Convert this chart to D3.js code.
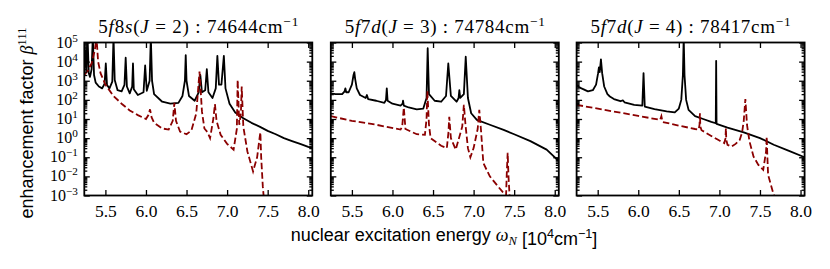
<!DOCTYPE html>
<html>
<head>
<meta charset="utf-8">
<script src="https://cdn.jsdelivr.net/npm/d3@7"></script>
<style>
  body { margin: 0; background: #fff; }
</style>
</head>
<body>
<script>
// tick values
var xTicks = [5.5, 6.0, 6.5, 7.0, 7.5, 8.0];
var yDecades = [1e-3, 1e-2, 1e-1, 1e0, 1e1, 1e2, 1e3, 1e4, 1e5];
var yExponents = ["\u22123", "\u22122", "\u22121", "0", "1", "2", "3", "4", "5"];

// panel titles: [text, style]
var title1 = [["5", ""], ["f", "i"], ["8", ""], ["s", "i"], ["(", ""], ["J", "i"], [" = 2) : 74644cm", ""], ["\u22121", "sup"]];
var title2 = [["5", ""], ["f", "i"], ["7", ""], ["d", "i"], ["(", ""], ["J", "i"], [" = 3) : 74784cm", ""], ["\u22121", "sup"]];
var title3 = [["5", ""], ["f", "i"], ["7", ""], ["d", "i"], ["(", ""], ["J", "i"], [" = 4) : 78417cm", ""], ["\u22121", "sup"]];

// 5f8s (J=2): [energy in 1e4 cm^-1, enhancement factor]
var black1 = [[5.24, 5e3], [5.255, 4e4], [5.265, 3.2e3], [5.28, 2e5], [5.295, 2.5e3], [5.31, 1.6e3],
  [5.33, 4e3], [5.345, 2e5], [5.36, 2e3], [5.38, 8e2], [5.42, 5e2], [5.46, 4e2], [5.49, 7e2],
  [5.505, 8e3], [5.52, 6e2], [5.55, 4e2], [5.585, 9e2], [5.6, 2e5], [5.615, 1.1e3], [5.65, 3.2e2],
  [5.7, 2.8e2], [5.735, 6e2], [5.75, 1.6e4], [5.765, 5e2], [5.8, 2.2e2], [5.83, 5e2], [5.84, 8e3],
  [5.85, 3.6e2], [5.9, 1.8e2], [5.97, 2.5e2], [5.99, 6.3e3], [6.01, 3e2], [6.045, 1e3], [6.06, 2e5],
  [6.075, 1e3], [6.1, 2e2], [6.2, 80], [6.3, 63], [6.4, 70], [6.45, 1.6e2], [6.48, 1e3], [6.49, 2.2e4],
  [6.5, 1e3], [6.53, 1.6e2], [6.6, 90], [6.65, 2.5e2], [6.67, 2e3], [6.69, 2.5e2], [6.73, 3.2e2],
  [6.75, 4e3], [6.77, 2.5e2], [6.82, 1.26e2], [6.86, 4e2], [6.88, 2e4], [6.9, 6.3e2], [6.93, 6.3e2],
  [6.96, 2e4], [6.98, 4e2], [7.03, 63], [7.1, 22], [7.2, 11], [7.3, 6.3], [7.4, 4], [7.5, 2.4],
  [7.6, 1.6], [7.7, 1], [7.8, 0.7], [7.9, 0.5], [8.0, 0.35], [8.05, 0.3]];
var red1 = [[5.24, 2e3], [5.28, 3.2e3], [5.33, 8e3], [5.37, 4e4], [5.39, 2e5], [5.41, 1e4], [5.44, 2.5e3],
  [5.5, 6.3e2], [5.6, 1.6e2], [5.7, 63], [5.8, 28], [5.9, 16], [6.0, 10], [6.03, 16], [6.05, 32],
  [6.07, 12], [6.1, 6.3], [6.2, 3.2], [6.28, 2.8], [6.33, 8], [6.35, 70], [6.37, 8], [6.42, 2.2],
  [6.5, 1.6], [6.56, 2.5], [6.62, 20], [6.66, 3e3], [6.69, 25], [6.72, 3.2], [6.76, 2], [6.79, 1],
  [6.83, 10], [6.85, 60], [6.87, 8], [6.92, 1.5], [7.0, 0.5], [7.08, 0.25], [7.12, 3], [7.13, 1.1e3],
  [7.15, 5], [7.17, 20], [7.18, 5e2], [7.2, 4], [7.25, 0.2], [7.32, 0.018], [7.37, 0.1], [7.4, 1],
  [7.41, 2], [7.42, 0.1], [7.44, 0.003], [7.46, 0.0003]];

// 5f7d (J=3)
var black2 = [[5.24, 2.2e2], [5.3, 2e2], [5.38, 2e2], [5.41, 2.8e2], [5.42, 4e2], [5.43, 2.5e2],
  [5.46, 2.5e2], [5.5, 6.3e2], [5.52, 2e3], [5.53, 2.8e3], [5.54, 1.26e3], [5.56, 4e2], [5.6, 1.8e2],
  [5.67, 1.26e2], [5.685, 1.8e2], [5.7, 1.1e2], [5.8, 90], [5.9, 70], [5.92, 1e2], [5.93, 4e2],
  [5.94, 90], [6.0, 63], [6.1, 50], [6.125, 63], [6.13, 90], [6.14, 50], [6.2, 40], [6.3, 32],
  [6.38, 35], [6.42, 1.26e2], [6.434, 5e4], [6.45, 2e2], [6.52, 90], [6.6, 80], [6.66, 1.6e2],
  [6.688, 8e3], [6.72, 1.6e2], [6.79, 80], [6.815, 1.26e2], [6.824, 3.2e2], [6.835, 1.26e2],
  [6.88, 2e2], [6.903, 1.8e4], [6.93, 1.26e2], [6.97, 20], [7.04, 9], [7.2, 5], [7.37, 2.7],
  [7.5, 1.6], [7.7, 0.7], [7.9, 0.25], [8.05, 0.063]];
var red2 = [[5.24, 14], [5.5, 8], [5.8, 5], [6.1, 2.8], [6.12, 4], [6.14, 40], [6.16, 3], [6.3, 1.6],
  [6.4, 1.5], [6.42, 10], [6.43, 3e2], [6.45, 5], [6.47, 1], [6.6, 0.4], [6.67, 0.3], [6.69, 2],
  [6.7, 13], [6.72, 1], [6.78, 0.25], [6.82, 1], [6.86, 4], [6.88, 55], [6.9, 5], [6.93, 0.3],
  [6.96, 0.1], [7.0, 0.3], [7.05, 3], [7.07, 30], [7.09, 3], [7.12, 0.05], [7.2, 0.01], [7.3, 0.003],
  [7.36, 0.0015], [7.4, 0.001], [7.41, 0.02], [7.42, 0.17], [7.43, 0.01], [7.45, 0.0003]];

// 5f7d (J=4)
var black3 = [[5.24, 5.4e2], [5.3, 4e2], [5.38, 2.8e2], [5.44, 3.2e2], [5.48, 6.3e2], [5.505, 2.5e3],
  [5.515, 5e3], [5.525, 2.8e3], [5.54, 1.3e4], [5.555, 2.5e3], [5.58, 5e2], [5.62, 2e2], [5.65, 1.5e2],
  [5.7, 1.1e2], [5.78, 85], [5.81, 95], [5.83, 75], [5.95, 55], [6.05, 50], [6.065, 2.5e3], [6.08, 45],
  [6.2, 33], [6.35, 25], [6.45, 22], [6.5, 35], [6.53, 1e2], [6.55, 2e3], [6.56, 2e5], [6.57, 2e3],
  [6.59, 1e2], [6.62, 30], [6.7, 14], [6.8, 10], [6.9, 7], [6.955, 6], [6.96, 1.1e4], [6.965, 5.5],
  [7.1, 3.5], [7.3, 2], [7.5, 1], [7.67, 0.45], [7.85, 0.22], [8.05, 0.1]];
var red3 = [[5.24, 55], [6.0, 14.5], [6.27, 9], [6.285, 14], [6.3, 7], [6.5, 4.5], [6.7, 3],
  [6.745, 2.8], [6.755, 5], [6.76, 20], [6.765, 4], [6.78, 2.6], [6.9, 1.3], [7.0, 0.75], [7.06, 0.55],
  [7.075, 1], [7.08, 3.3], [7.085, 0.8], [7.1, 0.45], [7.15, 0.36], [7.2, 0.5], [7.25, 0.8], [7.28, 2],
  [7.3, 8], [7.32, 1.1e2], [7.34, 5], [7.37, 0.7], [7.42, 0.11], [7.48, 0.04], [7.54, 0.022],
  [7.575, 0.2], [7.583, 1.2], [7.59, 0.15], [7.6, 0.012], [7.664, 0.0013], [7.72, 0.0003]];

var panels = [
  { title: title1, black: black1, red: red1 },
  { title: title2, black: black2, red: red2 },
  { title: title3, black: black3, red: red3 }
];

var serif = "'Liberation Serif', 'Times New Roman', serif";
var sans = "'Liberation Sans', Arial, sans-serif";

// write [text, style] pieces into a text element as tspans
function addPieces(txt, pieces, supShift) {
  var raised = false;
  pieces.forEach(function (p) {
    var t = txt.append("tspan").text(p[0]);
    var style = p[1];
    if (style.indexOf("i") >= 0) t.attr("font-style", "italic");
    if (style.indexOf("sup") >= 0) {
      t.attr("dy", -supShift).attr("font-size", "0.7em");
      raised = true;
    } else if (style.indexOf("sub") >= 0) {
      t.attr("dy", supShift * 0.5).attr("font-size", "0.7em");
    } else if (raised) {
      t.attr("dy", supShift);
      raised = false;
    }
    if (p[2]) t.attr("font-family", p[2]);
  });
}

function main() {
  var width = 830, height = 269;
  var top = 42.5, plotH = 153, plotW = 228;
  var lefts = [84.3, 330.8, 576.6];

  var svg = d3.select("body").append("svg")
    .attr("width", width)
    .attr("height", height);

  var x = d3.scaleLinear().domain([5.24, 8.05]).range([0, plotW]);
  var y = d3.scaleLog().domain([1e-3, 1e5]).range([plotH, 0]);

  // minor log ticks (2..9 of each decade)
  var minorTicks = y.ticks().filter(function (v) {
    return !yDecades.some(function (d) { return Math.abs(v / d - 1) < 1e-6; });
  });

  var line = d3.line()
    .x(function (d) { return x(d[0]); })
    .y(function (d) { return y(d[1]); });

  panels.forEach(function (p, i) {
    var g = svg.append("g").attr("transform", "translate(" + lefts[i] + "," + top + ")");

    g.append("clipPath").attr("id", "clip" + i)
      .append("rect").attr("width", plotW).attr("height", plotH);

    var curves = g.append("g").attr("clip-path", "url(#clip" + i + ")");
    curves.append("path").datum(p.black)
      .attr("d", line)
      .attr("fill", "none")
      .attr("stroke", "#000")
      .attr("stroke-width", 1.8)
      .attr("stroke-linejoin", "round");
    curves.append("path").datum(p.red)
      .attr("d", line)
      .attr("fill", "none")
      .attr("stroke", "#8b0000")
      .attr("stroke-width", 1.8)
      .attr("stroke-dasharray", "6.5,3");

    // x axes, bottom with labels and top without
    var xb = g.append("g").attr("transform", "translate(0," + plotH + ")")
      .call(d3.axisBottom(x).tickValues(xTicks).tickSize(-5.5).tickSizeOuter(0).tickFormat(d3.format(".1f")));
    xb.selectAll("text").attr("y", 21.5).attr("dy", null)
      .attr("font-family", serif).attr("font-size", 17.5).attr("fill", "#000");
    g.append("g")
      .call(d3.axisTop(x).tickValues(xTicks).tickSize(-5.5).tickSizeOuter(0).tickFormat(""));

    // y axes, majors + minors on both sides
    var yl = g.append("g")
      .call(d3.axisLeft(y).tickValues(yDecades).tickSize(-5.5).tickSizeOuter(0).tickFormat(""));
    g.append("g")
      .call(d3.axisLeft(y).tickValues(minorTicks).tickSize(-3).tickSizeOuter(0).tickFormat(""));
    g.append("g").attr("transform", "translate(" + plotW + ",0)")
      .call(d3.axisRight(y).tickValues(yDecades).tickSize(-5.5).tickSizeOuter(0).tickFormat(""));
    g.append("g").attr("transform", "translate(" + plotW + ",0)")
      .call(d3.axisRight(y).tickValues(minorTicks).tickSize(-3).tickSizeOuter(0).tickFormat(""));

    if (i === 0) {
      yl.selectAll(".tick text").each(function (d, k) {
        var t = d3.select(this).text(null)
          .attr("x", -6.5).attr("y", 4.5).attr("dy", null)
          .attr("font-family", serif).attr("font-size", 16).attr("fill", "#000")
          .attr("text-anchor", "end");
        addPieces(t, [["10", ""], [yExponents[k], "sup"]], 6);
      });
    }

    g.selectAll(".tick line").attr("stroke", "#000").attr("stroke-width", 1.3);
    g.selectAll(".domain").remove();

    g.append("rect")
      .attr("width", plotW).attr("height", plotH)
      .attr("fill", "none").attr("stroke", "#000").attr("stroke-width", 1.8);

    var title = g.append("text")
      .attr("x", plotW / 2).attr("y", -9.5)
      .attr("text-anchor", "middle")
      .attr("textLength", 200).attr("lengthAdjust", "spacing")
      .attr("font-family", serif).attr("font-size", 19);
    addPieces(title, p.title, 7.5);
  });

  // shared axis labels
  var xl = svg.append("text")
    .attr("x", 444).attr("y", 241)
    .attr("text-anchor", "middle")
    .attr("font-family", sans).attr("font-size", 18);
  addPieces(xl, [["nuclear excitation energy ", ""], ["\u03c9", "i", serif], ["N", "i sub", serif],
    [" [10", ""], ["4", "sup"], ["cm", ""], ["\u22121", "sup"], ["]", ""]], 7);

  var yLab = svg.append("text")
    .attr("transform", "translate(33,123) rotate(-90)")
    .attr("text-anchor", "middle")
    .attr("font-family", sans).attr("font-size", 18);
  addPieces(yLab, [["enhancement factor ", ""], ["\u03b2", "i", serif], ["111", "sup", serif]], 7);
}
document.addEventListener("DOMContentLoaded", main);
</script>
</body>
</html>
